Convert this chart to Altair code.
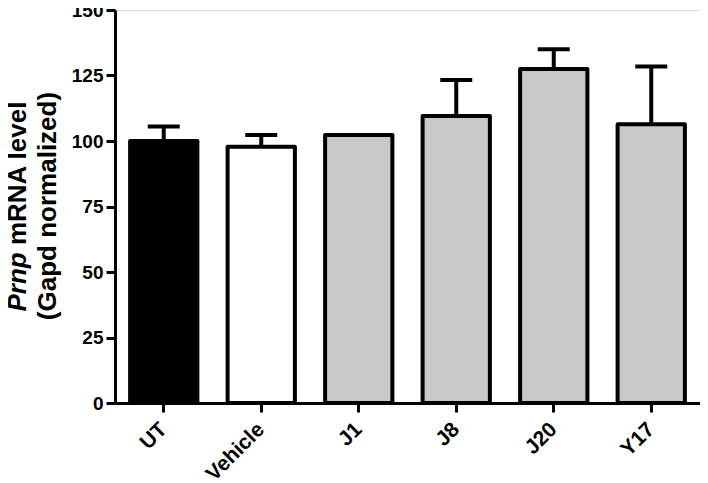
import altair as alt
import pandas as pd

categories = ["UT", "Vehicle", "J1", "J8", "J20", "Y17"]
means = [100.0, 97.8, 102.3, 109.5, 127.5, 106.4]
upper = [105.5, 102.3, None, 123.3, 135.0, 128.4]
fills = ["#000000", "#ffffff", "#c8c8c8", "#c8c8c8", "#c8c8c8", "#c8c8c8"]

y_title_line1_italic = "Prnp"
y_title_line1_rest = "mRNA level"
y_title_line2 = "(Gapd normalized)"

FONT = "Liberation Sans, Arial, Helvetica, sans-serif"

df = pd.DataFrame({"cat": categories, "mean": means, "upper": upper, "fill": fills})
err = df.dropna(subset=["upper"])

xenc = alt.X("cat:N", sort=categories,
             scale=alt.Scale(paddingInner=0.31, paddingOuter=0.155),
             axis=alt.Axis(title=None, labelAngle=-45, labelFontSize=21, labelFontWeight="bold",
                           labelFont=FONT, labelColor="black", labelPadding=14,
                           labelAlign="right", labelBaseline="middle",
                           tickSize=9, tickWidth=3, tickColor="black",
                           domainWidth=3, domainColor="black"))
yscale = alt.Scale(domain=[0, 150], nice=False)
yaxis = alt.Axis(title=None, values=[0, 25, 50, 75, 100, 125, 150], grid=False,
                 labelFontSize=19, labelFontWeight="bold", labelFont=FONT, labelColor="black",
                 labelPadding=3, tickSize=9, tickWidth=3, tickColor="black",
                 domainWidth=3, domainColor="black")

bars = alt.Chart(df).mark_bar(stroke="black", strokeWidth=4, strokeJoin="round").encode(
    x=xenc,
    y=alt.Y("mean:Q", scale=yscale, axis=yaxis),
    fill=alt.Fill("fill:N", scale=None),
)

rules = alt.Chart(err).mark_rule(color="black", strokeWidth=4).encode(
    x=alt.X("cat:N", sort=categories),
    y=alt.Y("mean:Q", scale=yscale),
    y2="upper:Q",
)

caps = alt.Chart(err).mark_tick(color="black", size=32, thickness=4, opacity=1).encode(
    x=alt.X("cat:N", sort=categories),
    y=alt.Y("upper:Q", scale=yscale),
)

TS = 26
t1 = alt.Chart(pd.DataFrame({"t": [y_title_line1_italic]})).mark_text(
    angle=270, align="right", baseline="middle", fontSize=TS, fontWeight="bold",
    fontStyle="italic", font=FONT, color="black"
).encode(text="t:N", x=alt.value(-97), y=alt.value(242.3))

t2 = alt.Chart(pd.DataFrame({"t": [y_title_line1_rest]})).mark_text(
    angle=270, align="left", baseline="middle", fontSize=TS, fontWeight="bold",
    font=FONT, color="black"
).encode(text="t:N", x=alt.value(-97), y=alt.value(235.1))

t3 = alt.Chart(pd.DataFrame({"t": [y_title_line2]})).mark_text(
    angle=270, align="center", baseline="middle", fontSize=TS, fontWeight="bold",
    font=FONT, color="black"
).encode(text="t:N", x=alt.value(-67), y=alt.value(196))

chart = alt.layer(bars, rules, caps, t1, t2, t3).properties(
    width=585, height=393,
    autosize=alt.AutoSizeParams(type="none"),
    padding={"left": 107, "top": 2, "right": 0, "bottom": 78},
).configure_view(stroke="black", strokeWidth=3).configure(background="white")

chart.save("out.html", embed_options={"renderer": "svg", "actions": False})
